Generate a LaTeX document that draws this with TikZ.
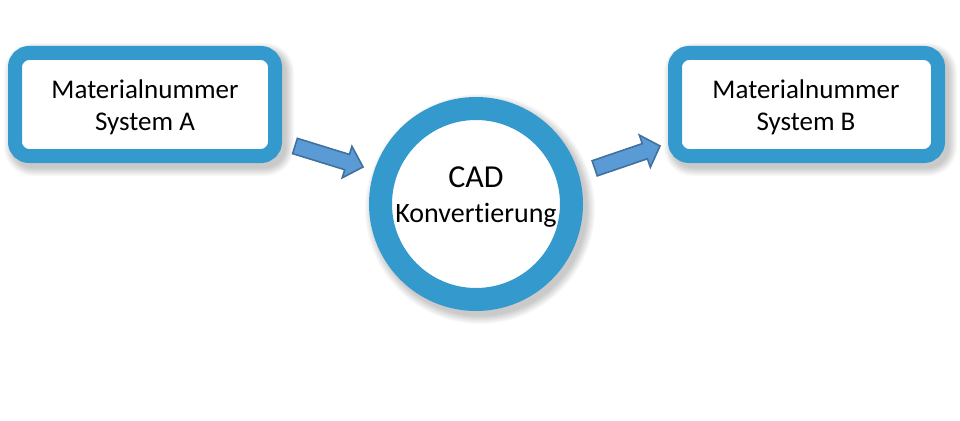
\documentclass[tikz,border=0pt]{standalone}
\usepackage{fontspec}
\setmainfont{Carlito}[Ligatures={NoCommon,NoRare,NoContextual}]
\definecolor{ringblue}{RGB}{52,153,204}
\definecolor{arrowfill}{RGB}{91,155,213}
\definecolor{arrowline}{RGB}{65,113,156}
\tikzset{
  framebox/.style={draw=ringblue, line width=14pt, fill=white, rounded corners=14pt,
    minimum height=103pt, inner sep=0pt},
  ringnode/.style={circle, draw=ringblue, line width=23pt, fill=white,
    minimum size=191pt, inner sep=0pt},
  boxtext/.style={anchor=base, inner sep=0pt, font=\fontsize{27pt}{33pt}\selectfont},
  blockarrow/.style={fill=arrowfill, draw=arrowline, line width=1.6pt, line join=miter},
  shadowpiece/.style={fill=black, opacity=0.022}
}
\begin{document}
\begin{tikzpicture}[x=1pt,y=-1pt]
  \useasboundingbox (0,0) rectangle (960,420);
  \fill[white] (0,0) rectangle (960,420);

  % soft shadows
  \foreach \e in {0,1,...,8} {
    \fill[shadowpiece, rounded corners={21pt+\e pt}] (12-\e,51-\e) rectangle (286+\e,168+\e);
    \fill[shadowpiece, rounded corners={21pt+\e pt}] (672-\e,51-\e) rectangle (949+\e,168+\e);
    \fill[shadowpiece] (480,209) circle ({107+\e});
  }

  % boxes and circle
  \node[framebox, minimum width=260pt] (boxA) at (145,104.5) {};
  \node[framebox, minimum width=263pt] (boxB) at (806.5,104.5) {};
  \node[ringnode] (cad) at (476,204) {};

  % texts
  \node[boxtext] (a1) at (145,98) {Materialnummer};
  \node[boxtext] (a2) at (145,130) {System A};
  \node[boxtext] (b1) at (806,98) {Materialnummer};
  \node[boxtext] (b2) at (806,130) {System B};
  \node[anchor=base, inner sep=0pt, font=\fontsize{32pt}{38pt}\selectfont] (c1) at (476,187) {CAD};
  \node[anchor=base, inner sep=0pt, font=\fontsize{28pt}{34pt}\selectfont] (c2) at (476,222) {Konvertierung};

  % block arrows
  \begin{scope}[shift={(295,146)}, rotate=-17.16]
    \draw[blockarrow] (0,-8) -- (54.5,-8) -- (54.5,-16.5) -- (71.2,0) -- (54.5,16.5) -- (54.5,8) -- (0,8) -- cycle;
  \end{scope}
  \begin{scope}[shift={(594.7,168.3)}, rotate=18.85]
    \draw[blockarrow] (0,-8) -- (53,-8) -- (53,-17) -- (69,0) -- (53,17) -- (53,8) -- (0,8) -- cycle;
  \end{scope}
\end{tikzpicture}
\end{document}
